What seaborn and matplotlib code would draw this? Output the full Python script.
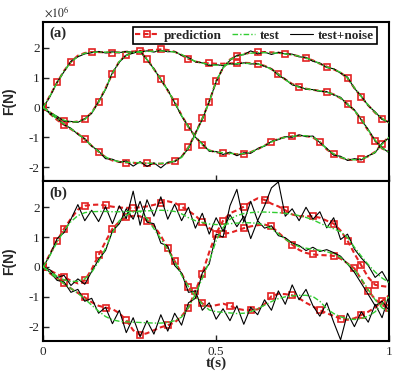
import numpy as np
import matplotlib
matplotlib.use('Agg')
import matplotlib.pyplot as plt
import seaborn as sns
from matplotlib.lines import Line2D

# time grid (s)
t = np.linspace(0, 1, 51)

# test signals, x10^6 N (same in both panels)
test_1 = [0, 0.40, 0.83, 1.22, 1.52, 1.72, 1.82, 1.85, 1.86, 1.86, 1.85, 1.85, 1.86, 1.86, 1.87, 1.88, 1.89,
          1.90, 1.89, 1.86, 1.78, 1.65, 1.55, 1.49, 1.44, 1.42, 1.43, 1.45, 1.47, 1.48, 1.48, 1.46, 1.40, 1.28,
          1.11, 0.93, 0.78, 0.68, 0.63, 0.59, 0.56, 0.51, 0.44, 0.32, 0.11, -0.10, -0.40, -0.76, -1.10, -1.37, -1.50]
test_2 = [0, -0.16, -0.31, -0.43, -0.49, -0.48, -0.40, -0.18, 0.18, 0.63, 1.15, 1.55, 1.74, 1.84, 1.86, 1.62,
          1.28, 0.95, 0.57, 0.18, -0.27, -0.66, -0.98, -1.24, -1.44, -1.50, -1.52, -1.54, -1.56, -1.55, -1.50,
          -1.40, -1.28, -1.16, -1.06, -1.00, -0.97, -0.95, -0.95, -0.99, -1.15, -1.40, -1.56, -1.67, -1.74, -1.76,
          -1.73, -1.65, -1.50, -1.24, -1.00]
test_3 = [0, -0.20, -0.39, -0.56, -0.72, -0.88, -1.07, -1.28, -1.48, -1.66, -1.77, -1.82, -1.84, -1.85, -1.86,
          -1.87, -1.88, -1.88, -1.86, -1.80, -1.68, -1.35, -0.92, -0.38, 0.18, 0.88, 1.32, 1.60, 1.72, 1.79, 1.82,
          1.84, 1.84, 1.83, 1.82, 1.80, 1.77, 1.72, 1.66, 1.58, 1.47, 1.36, 1.28, 1.18, 0.99, 0.66, 0.36, 0.08,
          -0.17, -0.37, -0.52]

# panel (a): prediction and test+noise
pred_a_1 = [0, 0.41, 0.84, 1.23, 1.53, 1.74, 1.83, 1.86, 1.86, 1.85, 1.84, 1.85, 1.87, 1.88, 1.90, 1.92, 1.93,
            1.95, 1.93, 1.87, 1.76, 1.63, 1.54, 1.50, 1.48, 1.47, 1.47, 1.48, 1.49, 1.50, 1.49, 1.46, 1.40, 1.29,
            1.12, 0.94, 0.79, 0.69, 0.63, 0.59, 0.56, 0.52, 0.44, 0.31, 0.12, -0.10, -0.41, -0.78, -1.12, -1.38, -1.48]
pred_a_2 = [0, -0.17, -0.33, -0.45, -0.50, -0.47, -0.39, -0.17, 0.19, 0.64, 1.14, 1.55, 1.76, 1.87, 1.87, 1.63,
            1.29, 0.95, 0.57, 0.18, -0.26, -0.66, -0.99, -1.25, -1.44, -1.51, -1.53, -1.55, -1.57, -1.56, -1.50,
            -1.40, -1.28, -1.15, -1.05, -1.00, -0.97, -0.95, -0.96, -1.01, -1.16, -1.41, -1.57, -1.68, -1.75, -1.77,
            -1.73, -1.64, -1.49, -1.22, -0.98]
pred_a_3 = [0, -0.22, -0.42, -0.58, -0.73, -0.88, -1.07, -1.29, -1.49, -1.67, -1.78, -1.83, -1.85, -1.86, -1.87,
            -1.88, -1.89, -1.89, -1.87, -1.80, -1.66, -1.33, -0.87, -0.37, 0.19, 0.88, 1.33, 1.61, 1.73, 1.80, 1.84,
            1.86, 1.86, 1.85, 1.84, 1.81, 1.77, 1.72, 1.66, 1.58, 1.47, 1.37, 1.28, 1.17, 0.98, 0.65, 0.35, 0.07,
            -0.18, -0.38, -0.50]
noise_a_1 = [0, 0.38, 0.85, 1.20, 1.55, 1.70, 1.80, 1.84, 1.88, 1.83, 1.87, 1.84, 1.88, 1.85, 1.86, 1.90, 1.86,
             1.92, 1.87, 1.88, 1.75, 1.68, 1.53, 1.50, 1.41, 1.44, 1.40, 1.47, 1.45, 1.50, 1.46, 1.47, 1.38, 1.30,
             1.08, 0.95, 0.76, 0.70, 0.61, 0.60, 0.54, 0.53, 0.42, 0.34, 0.09, -0.08, -0.42, -0.74, -1.12, -1.35, -1.52]
noise_a_2 = [0, -0.18, -0.30, -0.46, -0.47, -0.50, -0.38, -0.20, 0.20, 0.60, 1.17, 1.52, 1.76, 1.82, 1.90, 1.60,
             1.30, 0.93, 0.59, 0.16, -0.29, -0.64, -1.00, -1.22, -1.47, -1.48, -1.58, -1.50, -1.62, -1.52, -1.54,
             -1.38, -1.30, -1.14, -1.08, -0.98, -1.00, -0.92, -0.98, -0.96, -1.18, -1.37, -1.60, -1.64, -1.78, -1.72,
             -1.76, -1.62, -1.52, -1.20, -1.02]
noise_a_3 = [0, -0.22, -0.36, -0.58, -0.70, -0.90, -1.05, -1.30, -1.46, -1.72, -1.74, -1.84, -1.80, -1.97, -1.82,
             -1.98, -1.86, -2.03, -1.84, -1.82, -1.65, -1.38, -0.86, -0.40, 0.20, 0.86, 1.34, 1.58, 1.75, 1.77, 1.90,
             1.80, 1.86, 1.78, 1.85, 1.80, 1.79, 1.70, 1.68, 1.55, 1.49, 1.34, 1.30, 1.15, 1.02, 0.64, 0.38, 0.06,
             -0.15, -0.40, -0.50]

# panel (b): prediction and test+noise
pred_b_1 = [0, 0.45, 0.88, 1.28, 1.62, 1.92, 2.05, 2.08, 2.09, 2.06, 2.02, 1.99, 1.98, 1.98, 2.00, 2.03, 2.08,
            2.15, 2.20, 2.15, 2.02, 1.88, 1.72, 1.50, 1.30, 1.18, 1.12, 1.14, 1.22, 1.30, 1.36, 1.40, 1.42, 1.36,
            1.15, 0.95, 0.75, 0.57, 0.47, 0.42, 0.40, 0.39, 0.37, 0.28, 0.12, -0.05, -0.42, -0.80, -1.08, -1.28, -1.38]
pred_b_2 = [0, -0.12, -0.24, -0.34, -0.46, -0.55, -0.45, -0.08, 0.40, 0.85, 1.28, 1.52, 1.66, 1.71, 1.70, 1.55,
            1.38, 1.05, 0.62, 0.20, -0.22, -0.66, -0.98, -1.22, -1.32, -1.28, -1.23, -1.30, -1.40, -1.44, -1.44,
            -1.42, -1.25, -0.98, -0.90, -0.91, -0.95, -1.05, -1.20, -1.32, -1.45, -1.55, -1.64, -1.73, -1.77, -1.72,
            -1.61, -1.50, -1.36, -1.14, -0.95]
pred_b_3 = [0, -0.22, -0.38, -0.55, -0.72, -0.87, -1.02, -1.18, -1.30, -1.36, -1.41, -1.55, -1.78, -2.12, -2.28,
            -2.22, -2.12, -2.02, -1.95, -1.86, -1.65, -1.36, -0.80, -0.22, 0.50, 1.12, 1.55, 1.80, 1.90, 2.02, 2.18,
            2.30, 2.25, 2.12, 2.03, 1.90, 1.76, 1.70, 1.70, 1.70, 1.65, 1.55, 1.45, 1.22, 0.88, 0.45, 0.05, -0.35,
            -0.60, -0.64, -0.67]
noise_b_1 = [0, 0.42, 0.95, 1.15, 1.60, 2.09, 1.55, 1.90, 1.52, 2.02, 1.45, 2.05, 1.62, 2.54, 1.40, 2.25, 1.70,
             2.35, 1.60, 2.10, 1.55, 2.00, 1.30, 1.80, 1.10, 1.65, 1.20, 1.75, 1.35, 1.70, 0.95, 1.55, 1.30, 1.38,
             1.05, 0.98, 0.80, 0.72, 0.55, 0.66, 0.52, 0.58, 0.48, 0.36, 0.10, -0.18, -0.55, -0.92, -1.30, -1.15, -1.45]
noise_b_2 = [0, -0.10, -0.35, -0.28, -0.62, -0.40, -0.58, -0.15, 0.25, 0.55, 1.20, 1.45, 1.95, 1.60, 2.20, 1.50,
             1.45, 0.80, 0.70, 0.05, -0.20, -0.85, -0.80, -1.45, -1.20, -1.75, -1.40, -1.80, -1.30, -1.92, -1.35,
             -1.60, -1.10, -1.45, -0.80, -1.25, -0.60, -1.10, -0.75, -1.30, -1.65, -1.20, -1.85, -2.44, -1.55, -2.00,
             -1.50, -1.85, -1.25, -1.70, -0.95]
noise_b_3 = [0, -0.18, -0.45, -0.50, -0.85, -0.75, -1.15, -1.05, -1.55, -1.35, -1.90, -1.45, -2.20, -1.70, -2.34,
             -1.80, -2.25, -1.60, -2.15, -1.55, -1.95, -1.20, -1.05, -0.20, 0.10, 1.10, 1.00, 2.05, 2.60, 1.50, 2.20,
             1.55, 2.05, 2.65, 2.85, 1.70, 1.95, 1.55, 2.00, 1.60, 1.85, 1.31, 1.65, 0.92, 1.10, 0.60, 0.30, 0.05,
             -0.35, -0.15, -0.55]

red = '#e32222'
green = '#32cd32'

sns.set_style('ticks')
plt.rcParams['font.family'] = ['Liberation Serif', 'DejaVu Serif']
plt.rcParams['mathtext.fontset'] = 'stix'
plt.rcParams['axes.unicode_minus'] = False

fig = plt.figure(figsize=(3.99, 3.76), dpi=100)
ax_a = fig.add_axes([0.1085, 0.5186, 0.8664, 0.4237])
ax_b = fig.add_axes([0.1085, 0.0939, 0.8664, 0.4247])

pred_kws = dict(color=red, linewidth=1.5, linestyle=(0, (2.5, 1.5)), marker='s', markersize=4.0,
                markerfacecolor='none', markeredgecolor=red, markeredgewidth=1.2, markevery=0.065)
test_kws = dict(color=green, linewidth=1.0, linestyle=(0, (4, 1.5, 1, 1.5)))
noise_kws = dict(color='black', linewidth=0.8, linestyle='-')

panels = [(ax_a, [pred_a_1, pred_a_2, pred_a_3], [noise_a_1, noise_a_2, noise_a_3], '(a)'),
          (ax_b, [pred_b_1, pred_b_2, pred_b_3], [noise_b_1, noise_b_2, noise_b_3], '(b)')]

for ax, preds, noises, tag in panels:
    for p, te, n in zip(preds, [test_1, test_2, test_3], noises):
        sns.lineplot(x=t, y=np.array(p), ax=ax, estimator=None, sort=False, zorder=2, **pred_kws)
        sns.lineplot(x=t, y=np.array(n), ax=ax, estimator=None, sort=False, zorder=3, **noise_kws)
        sns.lineplot(x=t, y=np.array(te), ax=ax, estimator=None, sort=False, zorder=4, **test_kws)
    ax.set_xlim(0, 1)
    ax.set_ylim(-2.47, 2.88)
    ax.set_xticks([0, 0.5, 1])
    ax.set_xticklabels(['0', '0.5', '1'])
    ax.set_yticks([-2, -1, 0, 1, 2])
    ax.set_yticklabels(['-2', '-1', '0', '1', '2'])
    ax.tick_params(direction='in', length=4, width=1, labelsize=9.5, pad=2.5)
    ax.tick_params(axis='x', pad=4)
    for s in ax.spines.values():
        s.set_linewidth(1.5)
        s.set_color('black')
    ax.set_ylabel('F(N)', family=['Liberation Sans', 'DejaVu Sans'], fontweight='bold', fontsize=10)
    ax.yaxis.set_label_coords(-0.079, 0.5)
    ax.set_xlabel('')
    ax.text(0.017, 0.93 if tag == '(a)' else 0.923, tag, transform=ax.transAxes, ha='left', va='center',
            fontsize=10.5, fontweight='bold')

ax_a.tick_params(labelbottom=False)
ax_b.set_xlabel('t(s)', fontsize=11, fontweight='bold')
ax_b.xaxis.set_label_coords(0.5, -0.1)

fig.text(0.11, 0.955, r'$\times10^{6}$', fontsize=8.5, ha='left', va='baseline')

handles = [Line2D([], [], color=red, linewidth=1.5, linestyle=(0, (2.5, 1.5)), marker='s', markersize=4.0,
                  markerfacecolor='none', markeredgecolor=red, markeredgewidth=1.2),
           Line2D([], [], color=green, linewidth=1.0, linestyle=(0, (4, 1.5, 1, 1.5))),
           Line2D([], [], color='black', linewidth=0.8)]
leg = ax_a.legend(handles, ['prediction', 'test', 'test+noise'], loc='upper left', bbox_to_anchor=(0.259, 0.967),
                  ncol=3, frameon=True, fancybox=False, edgecolor='black', framealpha=1,
                  prop=dict(family='Liberation Serif', weight='bold', size=9.5), handlelength=1.75,
                  handletextpad=0.4, columnspacing=0.75, borderpad=0.2, borderaxespad=0)
leg.get_frame().set_linewidth(1.2)

fig.savefig('out.png', dpi=100)
